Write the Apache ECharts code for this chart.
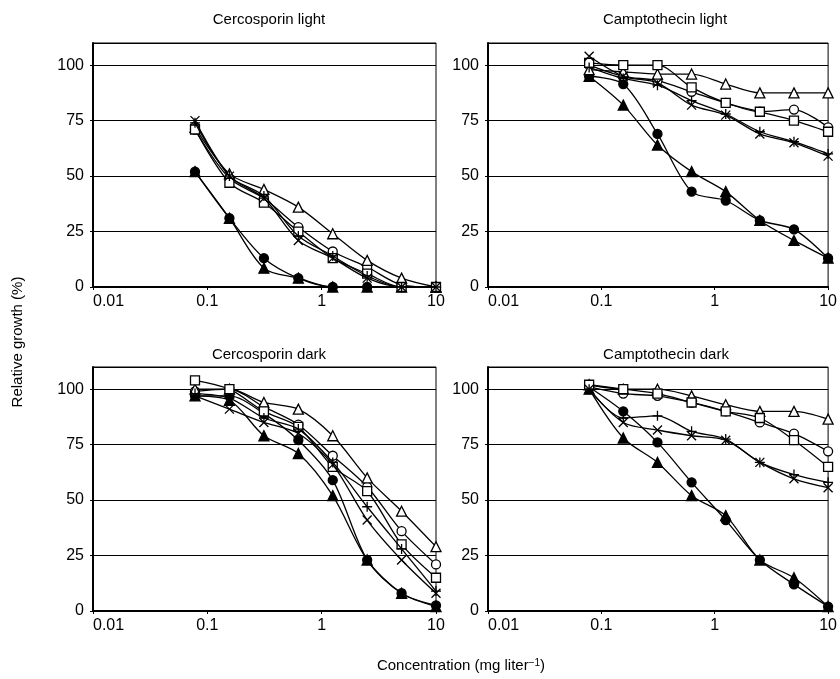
<!DOCTYPE html>
<html>
<head>
<meta charset="utf-8">
<script src="https://cdn.jsdelivr.net/npm/echarts@6/dist/echarts.min.js"></script>
<style>
html,body{margin:0;padding:0;background:#fff;}
#c{width:840px;height:679px;}
</style>
</head>
<body>
<div id="c"></div>
<script>
// Concentrations (mg/liter), two-fold dilutions
const conc = [0.078, 0.156, 0.3125, 0.625, 1.25, 2.5, 5, 10];
const xTicks = [0.01, 0.1, 1, 10];
const yTicks = [0, 25, 50, 75, 100];
const panelTitles = ['Cercosporin light', 'Camptothecin light', 'Cercosporin dark', 'Camptothecin dark'];

// Panel 1: Cercosporin light
const cerLight_filledCircle   = [52, 31, 13, 4, 0, 0, 0, 0];
const cerLight_filledTriangle = [52, 31, 8.5, 4, 0, 0, 0, 0];
const cerLight_openCircle     = [71, 49, 40, 27, 16, 9, 1, 0];
const cerLight_openTriangle   = [72, 51, 44, 36, 24, 12, 4, 0];
const cerLight_openSquare     = [71, 47, 38, 25, 13, 6, 0, 0];
const cerLight_cross          = [75, 50, 40, 21, 13, 4, 0, 0];
const cerLight_plus           = [74, 50, 41, 23, 14, 5, 0, 0];

// Panel 2: Camptothecin light
const camLight_filledCircle   = [95, 91.5, 69, 43, 39, 30, 26, 13];
const camLight_filledTriangle = [95, 82, 64, 52, 43, 30, 21, 13];
const camLight_openCircle     = [100, 95, 93, 88, 83, 79, 80, 72];
const camLight_openTriangle   = [98, 97, 96, 96, 91.5, 87.5, 87.5, 87.5];
const camLight_openSquare     = [101, 100, 100, 90, 83, 79, 75, 70];
const camLight_cross          = [104, 95, 92, 82, 77.5, 69, 65, 59];
const camLight_plus           = [99, 94, 91, 84, 78, 70, 65.5, 60];

// Panel 3: Cercosporin dark
const cerDark_filledCircle   = [97, 97, 89, 77, 59, 23, 8, 2.5];
const cerDark_filledTriangle = [97, 95, 79, 71, 52, 23, 8, 2];
const cerDark_openCircle     = [99, 100, 92, 84, 70, 56, 36, 21];
const cerDark_openTriangle   = [100, 100, 94, 91, 79, 60, 45, 29];
const cerDark_openSquare     = [104, 100, 90, 83, 65, 54, 30, 15];
const cerDark_cross          = [97, 91, 85, 80, 66, 41, 23, 8];
const cerDark_plus           = [98, 96, 87, 82, 67, 47, 28, 9];

// Panel 4: Camptothecin dark
const camDark_filledCircle   = [101, 90, 76, 58, 41, 23, 12, 2];
const camDark_filledTriangle = [100, 78, 67, 52, 43, 23, 15, 2];
const camDark_openCircle     = [101, 98, 97, 94, 90, 85, 80, 72];
const camDark_openTriangle   = [102, 100, 100, 97, 93, 90, 90, 86.5];
const camDark_openSquare     = [102, 100, 98, 94, 90, 87, 77, 65];
const camDark_cross          = [100, 85, 81.6, 79, 77, 67, 59.6, 55.6];
const camDark_plus           = [100, 87, 88, 81, 77.5, 67, 61.5, 58];

const panels = [
  [cerLight_filledCircle, cerLight_filledTriangle, cerLight_openCircle, cerLight_openTriangle, cerLight_openSquare, cerLight_cross, cerLight_plus],
  [camLight_filledCircle, camLight_filledTriangle, camLight_openCircle, camLight_openTriangle, camLight_openSquare, camLight_cross, camLight_plus],
  [cerDark_filledCircle, cerDark_filledTriangle, cerDark_openCircle, cerDark_openTriangle, cerDark_openSquare, cerDark_cross, cerDark_plus],
  [camDark_filledCircle, camDark_filledTriangle, camDark_openCircle, camDark_openTriangle, camDark_openSquare, camDark_cross, camDark_plus]
];

const FONT = '"Liberation Sans", Arial, sans-serif';
const crossPath = 'path://M0,0L10,10M10,0L0,10';
const plusPath = 'path://M5,0L5,10M0,5L10,5';
const markerStyles = [
  {symbol: 'circle', size: 9, fill: '#000'},
  {symbol: 'triangle', size: 10, fill: '#000'},
  {symbol: 'circle', size: 9, fill: '#fff'},
  {symbol: 'triangle', size: 10, fill: '#fff'},
  {symbol: 'rect', size: 9, fill: '#fff'},
  {symbol: crossPath, size: 9, fill: '#000'},
  {symbol: plusPath, size: 10, fill: '#000'}
];

const gridPos = [
  {left: 93, top: 43, width: 343, height: 244},
  {left: 488, top: 43, width: 344, height: 244},
  {left: 93, top: 367, width: 343, height: 244},
  {left: 488, top: 367, width: 344, height: 244}
];

const grids = gridPos.map(g => Object.assign({show: true, borderColor: '#000', borderWidth: 1, backgroundColor: '#fff'}, g));
const xAxes = gridPos.map((g, i) => ({
  type: 'log', logBase: 10, gridIndex: i, min: xTicks[0], max: xTicks[xTicks.length - 1],
  axisLine: {show: true, lineStyle: {color: '#000', width: 2}},
  axisTick: {show: true, length: 3, inside: false, lineStyle: {color: '#000'}},
  splitLine: {show: false},
  axisLabel: {
    color: '#000', fontFamily: FONT, fontSize: 16, margin: 7,
    alignMinLabel: 'left',
    formatter: v => String(+(+v).toPrecision(3))
  }
}));
const yAxes = gridPos.map((g, i) => ({
  type: 'value', gridIndex: i, min: 0, max: 110, interval: 25,
  axisLine: {show: true, lineStyle: {color: '#000', width: 2}},
  axisTick: {show: true, length: 3, lineStyle: {color: '#000'}},
  splitLine: {show: true, lineStyle: {color: '#000', width: 1}},
  axisLabel: {color: '#000', fontFamily: FONT, fontSize: 16, margin: 9, showMaxLabel: false,
    formatter: v => (v > 100 ? '' : String(v))}
}));

const series = [];
panels.forEach((sets, pi) => {
  sets.forEach((vals, si) => {
    const m = markerStyles[si];
    series.push({
      type: 'line', xAxisIndex: pi, yAxisIndex: pi,
      data: conc.map((c, k) => [c, vals[k]]),
      smooth: 0.3,
      symbol: m.symbol, symbolSize: m.size, showAllSymbol: true,
      lineStyle: {color: '#000', width: 1.3},
      itemStyle: {color: m.fill, borderColor: '#000', borderWidth: 1.3},
      z: 2 + si,
      animation: false
    });
  });
});

const titleCenters = [
  {x: 264, y: 7}, {x: 660, y: 7}, {x: 264, y: 342}, {x: 661, y: 342}
];
const titles = panelTitles.map((t, i) => ({
  text: t, left: titleCenters[i].x, top: titleCenters[i].y, textAlign: 'center',
  textStyle: {fontFamily: FONT, fontSize: 15, fontWeight: 'normal', color: '#000'}
}));

const chart = echarts.init(document.getElementById('c'), null, {renderer: 'canvas'});
chart.setOption({
  backgroundColor: '#fff',
  animation: false,
  title: titles,
  grid: grids,
  xAxis: xAxes,
  yAxis: yAxes,
  series: series,
  graphic: [
    {type: 'text', x: 18, y: 342, rotation: Math.PI / 2,
      style: {text: 'Relative growth (%)', fontFamily: FONT, fontSize: 15, fill: '#000', align: 'center', verticalAlign: 'middle'}},
    {type: 'text', x: 461, y: 666,
      style: {
        text: '{n|Concentration (mg liter}{s|−1}{n|)}',
        rich: {n: {fontFamily: FONT, fontSize: 15, fill: '#000'}, s: {fontFamily: FONT, fontSize: 10, fill: '#000', verticalAlign: 'top', padding: [0, 0, 6, 0]}},
        align: 'center', verticalAlign: 'middle'
      }}
  ]
});
</script>
</body>
</html>
